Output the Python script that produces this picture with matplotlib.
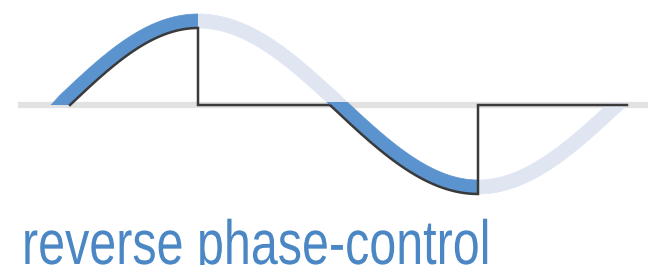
import numpy as np
import matplotlib
matplotlib.use("Agg")
import matplotlib.pyplot as plt
from matplotlib.patches import Rectangle, Polygon
from matplotlib.patheffects import AbstractPathEffect
from matplotlib.transforms import Affine2D

# Key points of the reverse phase-control waveform (pixel space)
phase_deg = [0, 90, 180, 270, 360]
phase_x = [70, 198, 330, 478, 627]          # x position of each key phase
amplitude = [77, 89]                        # positive / negative half amplitude
axis_y = 105
axis_span = [18, 648]
band_width = 14
title = "reverse phase-control"

DARK = "#5b93cf"
LIGHT = "#dfe6f2"
GRAY = "#e2e2e2"
INK = "#3a3a3a"
TEXT = "#4a87c4"

W, H = 652, 265
fig = plt.figure(figsize=(W / 100, H / 100), dpi=100)
ax = fig.add_axes([0, 0, 1, 1])
ax.set_xlim(0, W)
ax.set_ylim(H, 0)
ax.axis("off")


def wave(p0, p1, n=200):
    """Sine wave in pixel space between phases p0..p1 (degrees)."""
    ph = np.linspace(p0, p1, n)
    x = np.interp(ph, phase_deg, phase_x)
    slope_l = (phase_x[1] - phase_x[0]) / 90
    slope_r = (phase_x[-1] - phase_x[-2]) / 90
    x = np.where(ph < 0, phase_x[0] + ph * slope_l, x)
    x = np.where(ph > 360, phase_x[-1] + (ph - 360) * slope_r, x)
    s = np.sin(np.radians(ph))
    amp = np.where(s >= 0, amplitude[0], amplitude[1])
    y = axis_y - amp * s
    return x, y


def band(p0, p1, color, clip, z):
    x, y = wave(p0, p1)
    dx = np.gradient(x)
    dy = np.gradient(y)
    norm = np.hypot(dx, dy)
    nx, ny = dy / norm, -dx / norm          # normal pointing up (smaller y)
    flip = ny > 0
    nx = np.where(flip, -nx, nx)
    ny = np.where(flip, -ny, ny)
    ux, uy = x + band_width * nx, y + band_width * ny
    pts = np.column_stack([np.concatenate([x, ux[::-1]]),
                           np.concatenate([y, uy[::-1]])])
    poly = Polygon(pts, closed=True, facecolor=color, edgecolor=color,
                   linewidth=0.5, zorder=z)
    ax.add_patch(poly)
    r = Rectangle((clip[0], clip[1]), clip[2] - clip[0], clip[3] - clip[1],
                  transform=ax.transData, fill=False, visible=False)
    ax.add_patch(r)
    poly.set_clip_path(r)


class SqueezeX(AbstractPathEffect):
    """Draw text narrower horizontally, anchored at a display x."""
    def __init__(self, sx, x0):
        super().__init__()
        self.sx = sx
        self.x0 = x0

    def draw_path(self, renderer, gc, tpath, affine, rgbFace=None):
        t = affine + Affine2D().translate(-self.x0, 0).scale(self.sx, 1).translate(self.x0, 0)
        renderer.draw_path(gc, tpath, t, rgbFace)


# gray axis line
ax.plot(axis_span, [axis_y, axis_y], color=GRAY, lw=4.5,
        solid_capstyle="butt", zorder=1)

# light (non-conducting) parts of the sine
band(90, 185, LIGHT, (phase_x[1], 0, 360, axis_y - 2), 2)
band(270, 380, LIGHT, (phase_x[3], axis_y - 2, W, H), 2)
# dark (conducting) parts
band(-25, 90, DARK, (0, 0, phase_x[1], axis_y), 3)
band(160, 270, DARK, (0, axis_y - 3, phase_x[3], H), 3)

# black chopped waveform
x1, y1 = wave(0, 90)
x2, y2 = wave(180, 270)
bx = np.concatenate([x1, [phase_x[1], phase_x[2]], x2, [phase_x[3], phase_x[4]]])
by = np.concatenate([y1, [axis_y, axis_y], y2, [axis_y, axis_y]])
ax.plot(bx, by, color=INK, lw=1.8, solid_joinstyle="miter", zorder=4)

tx = 22
ax.text(tx, 264, title, fontsize=45, color=TEXT, ha="left", va="baseline",
        family=["Liberation Sans", "DejaVu Sans"], zorder=5,
        path_effects=[SqueezeX(0.775, tx)])

fig.savefig("out.png", dpi=100, facecolor="white")
